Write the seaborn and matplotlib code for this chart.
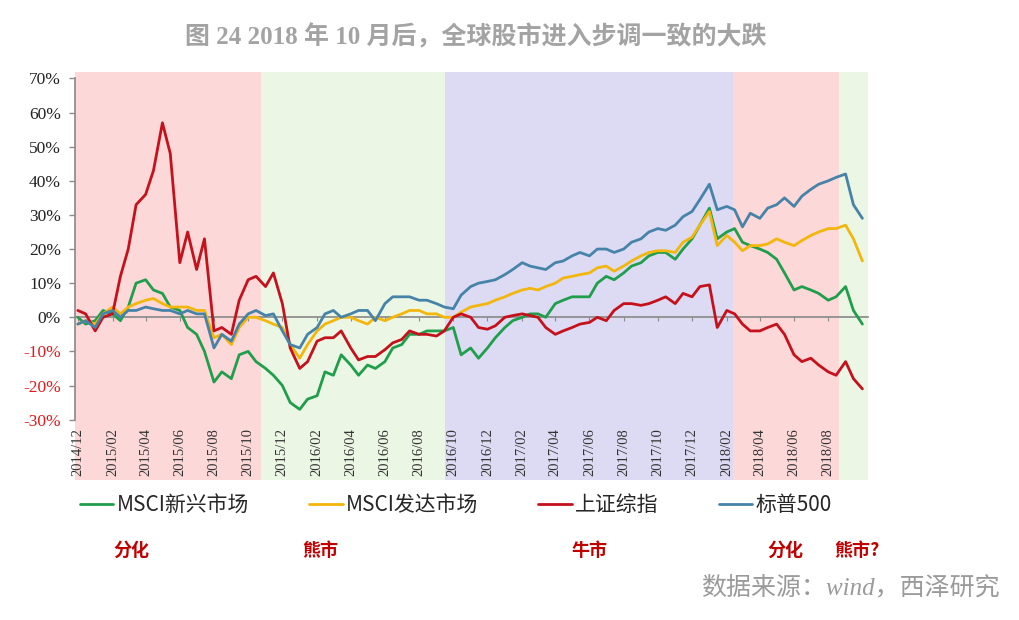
"""
Global equity indices since 2014/12 - cumulative return, with market phases shaded
"""

import matplotlib
matplotlib.use('Agg')
import matplotlib.pyplot as plt
import matplotlib.transforms as mtransforms
import seaborn as sns
import pandas as pd

# semi-monthly observations, 2014/12/01 .. 2018/10/01 (93 points)
dates = pd.date_range('2014-12-01', '2018-10-01', freq='SMS')

series_names = ['MSCI新兴市场', 'MSCI发达市场', '上证综指', '标普500']
series_colors = ['#1F9E4B', '#F3B60C', '#C4111B', '#4683A8']

# cumulative return, %
msci_em = [0, -2, -1, 2, 1, -1, 3, 10, 11, 8,
           7, 3, 2, -3, -5, -10, -19, -16, -18, -11,
           -10, -13, -15, -17, -20, -25, -27, -24, -23, -16,
           -17, -11, -14, -17, -14, -15, -13, -9, -8, -5,
           -5, -4, -4, -4, -3, -11, -9, -12, -9, -6,
           -3, -1, 0, 1, 1, 0, 4, 5, 6, 6,
           6, 10, 12, 11, 13, 15, 16, 18, 19, 19,
           17, 20, 23, 27, 32, 23, 25, 26, 22, 21,
           20, 19, 17, 13, 8, 9, 8, 7, 5, 6,
           9, 2, -2]
msci_dm = [-2, -1, -2, 1, 3, 1, 3, 4, 5, 5.5,
           4, 3, 3, 3, 2, 2, -6, -5, -8, -3,
           0, 0, -1, -2, -3, -8, -12, -8, -4, -2,
           -1, 0, 0, -1, -2, 0, -1, 0, 1, 2,
           2, 1, 1, 0, 0, 1.5, 3, 3.5, 4, 5,
           6, 7, 8, 8.5, 8, 9, 10, 11.5, 12, 12.5,
           13, 14.5, 15, 13.5, 15, 16.5, 18, 19, 19.5, 19.5,
           19, 22, 23.5, 27, 31, 21, 24, 22, 19.5, 21,
           21, 21.5, 23, 22, 21, 22.5, 24, 25, 26, 26,
           27, 23, 16.5]
sh_comp = [2, 1, -4, 0, 1, 12, 20, 33, 36, 43,
           57, 48, 16, 25, 14, 23, -4, -3, -5, 5,
           11, 12, 9, 13, 4, -9, -15, -13, -7, -6,
           -6, -4, -9, -12.5, -11.5, -11.5, -9.5, -7.5, -6.5, -4,
           -5, -5, -5.5, -4, 0, 1, 0, -3, -3.5, -2.5,
           0, 0.5, 1, 0.5, 0, -3, -5, -4, -3, -2,
           -1.5, 0, -1, 2, 4, 4, 3.5, 4, 5, 6,
           4, 7, 6, 9, 9.5, -3, 2, 1, -2, -4,
           -4, -3, -2, -5, -11, -13, -12, -14, -16, -17,
           -13, -18, -21]
sp500 = [-2, -1, -3, 1, 2, 0, 2, 2, 3, 2.5,
         2, 2, 1, 2, 1, 1, -9, -5, -7, -2,
         1, 2, 0.5, 1, -4, -8, -9, -5, -3, 1,
         2, 0, 1, 2, 2, -1, 4, 6, 6, 6,
         5, 5, 4, 3, 2.5, 6.5, 9, 10, 10.5, 11,
         12.5, 14, 16, 15, 14.5, 14, 16, 16.5, 18, 19,
         18, 20, 20, 19, 20, 22, 23, 25, 26, 25.5,
         27, 29.5, 31, 34.5, 39, 31.5, 32.5, 31.5, 26.5, 30.5,
         29, 32, 33, 35, 32.5, 35.5, 37.5, 39, 40, 41,
         42, 33, 29]

# market phases (shaded background)
phase_starts = ['2014-11-20', '2015-10-23', '2016-09-16', '2018-02-13', '2018-08-21']
phase_ends = ['2015-10-23', '2016-09-16', '2018-02-13', '2018-08-21', '2018-11-20']
phase_colors = ['#FDD8D8', '#ECF6E4', '#DDDBF3', '#FDD8D8', '#ECF6E4']
phase_labels = ['分化', '熊市', '牛市', '分化', '熊市?']
phase_label_x = [131, 320, 590, 785, 857]  # figure pixels

yticks = [-30, -20, -10, 0, 10, 20, 30, 40, 50, 60, 70]
tick_dates = pd.date_range('2014-12-01', '2018-08-01', freq='2MS')

title = '图 24 2018 年 10 月后，全球股市进入步调一致的大跌'
source = '数据来源：wind，西泽研究'

SERIF_CJK = ['Liberation Serif', 'Noto Sans CJK SC', 'DejaVu Sans']
SANS_CJK = ['Noto Sans CJK SC', 'DejaVu Sans']

sns.set_theme(style='white')
plt.rcParams['font.family'] = SANS_CJK
plt.rcParams['axes.unicode_minus'] = False

df = pd.DataFrame({'date': dates, series_names[0]: msci_em, series_names[1]: msci_dm,
                   series_names[2]: sh_comp, series_names[3]: sp500})
long_df = df.melt(id_vars='date', var_name='index', value_name='ret')

W, H = 1020, 620
fig = plt.figure(figsize=(W / 100, H / 100), dpi=100)
ax = fig.add_axes([75 / W, 1 - 480 / H, 793 / W, 408 / H])
ax.set_facecolor('white')

sns.lineplot(data=long_df, x='date', y='ret', hue='index', hue_order=series_names,
             palette=series_colors, linewidth=2.0, ax=ax, legend=True)

for s, e, c in zip(phase_starts, phase_ends, phase_colors):
    ax.axvspan(pd.Timestamp(s), pd.Timestamp(e), color=c, zorder=0, lw=0)

ax.set_xlim(pd.Timestamp('2014-11-26'), pd.Timestamp('2018-10-11'))
ax.set_ylim(-47.7, 71.9)
ax.set_xlabel('')
ax.set_ylabel('')

# axes styling
for side in ['top', 'right']:
    ax.spines[side].set_visible(False)
ax.spines['left'].set_bounds(-30, 70)
ax.spines['left'].set_color('#8C8C8C')
ax.spines['bottom'].set_position(('data', 0))
ax.spines['bottom'].set_color('#8C8C8C')
ax.spines['bottom'].set_zorder(1.5)

ax.set_yticks(yticks)
ax.set_yticklabels([f'{v}%' for v in yticks], family=SERIF_CJK, fontsize=12.5)
for lbl, v in zip(ax.get_yticklabels(), yticks):
    lbl.set_color('#E3191C' if v < 0 else '#222222')
ax.tick_params(axis='y', left=True, length=4, width=1, color='#8C8C8C', pad=6)

ax.set_xticks(tick_dates)
ax.tick_params(axis='x', bottom=True, length=3, width=0.8, color='#8C8C8C',
               labelbottom=False)

trans = mtransforms.blended_transform_factory(ax.transData, ax.transAxes)
for d in tick_dates:
    ax.text(d, (480 - 428) / 408, d.strftime('%Y/%m'), transform=trans,
            rotation=90, ha='center', va='top', fontsize=10.5,
            family=SERIF_CJK, color='#333333')

# legend below the chart
handles, labels = ax.get_legend_handles_labels()
ax.get_legend().remove()
fig.legend(handles, labels, loc='center left', bbox_to_anchor=(80 / W, 1 - 505 / H),
           ncol=4, frameon=False, fontsize=15, handlelength=1.6,
           handletextpad=0.15, columnspacing=2.9, borderpad=0, borderaxespad=0)

# phase labels
for txt, px in zip(phase_labels, phase_label_x):
    fig.text(px / W, 1 - 550 / H, txt, ha='center', va='center', fontsize=13,
             weight='bold', color='#C00000', family=SANS_CJK)

fig.text(476 / W, 1 - 37 / H, title, ha='center', va='center', fontsize=18,
         weight='bold', color='#A3A3A3', family=SERIF_CJK)
fig.text(1000 / W, 1 - 588 / H, source, ha='right', va='center', fontsize=18,
         style='italic', color='#9A9A9A', family=SERIF_CJK)

fig.savefig('out.png', dpi=100)
plt.close(fig)
